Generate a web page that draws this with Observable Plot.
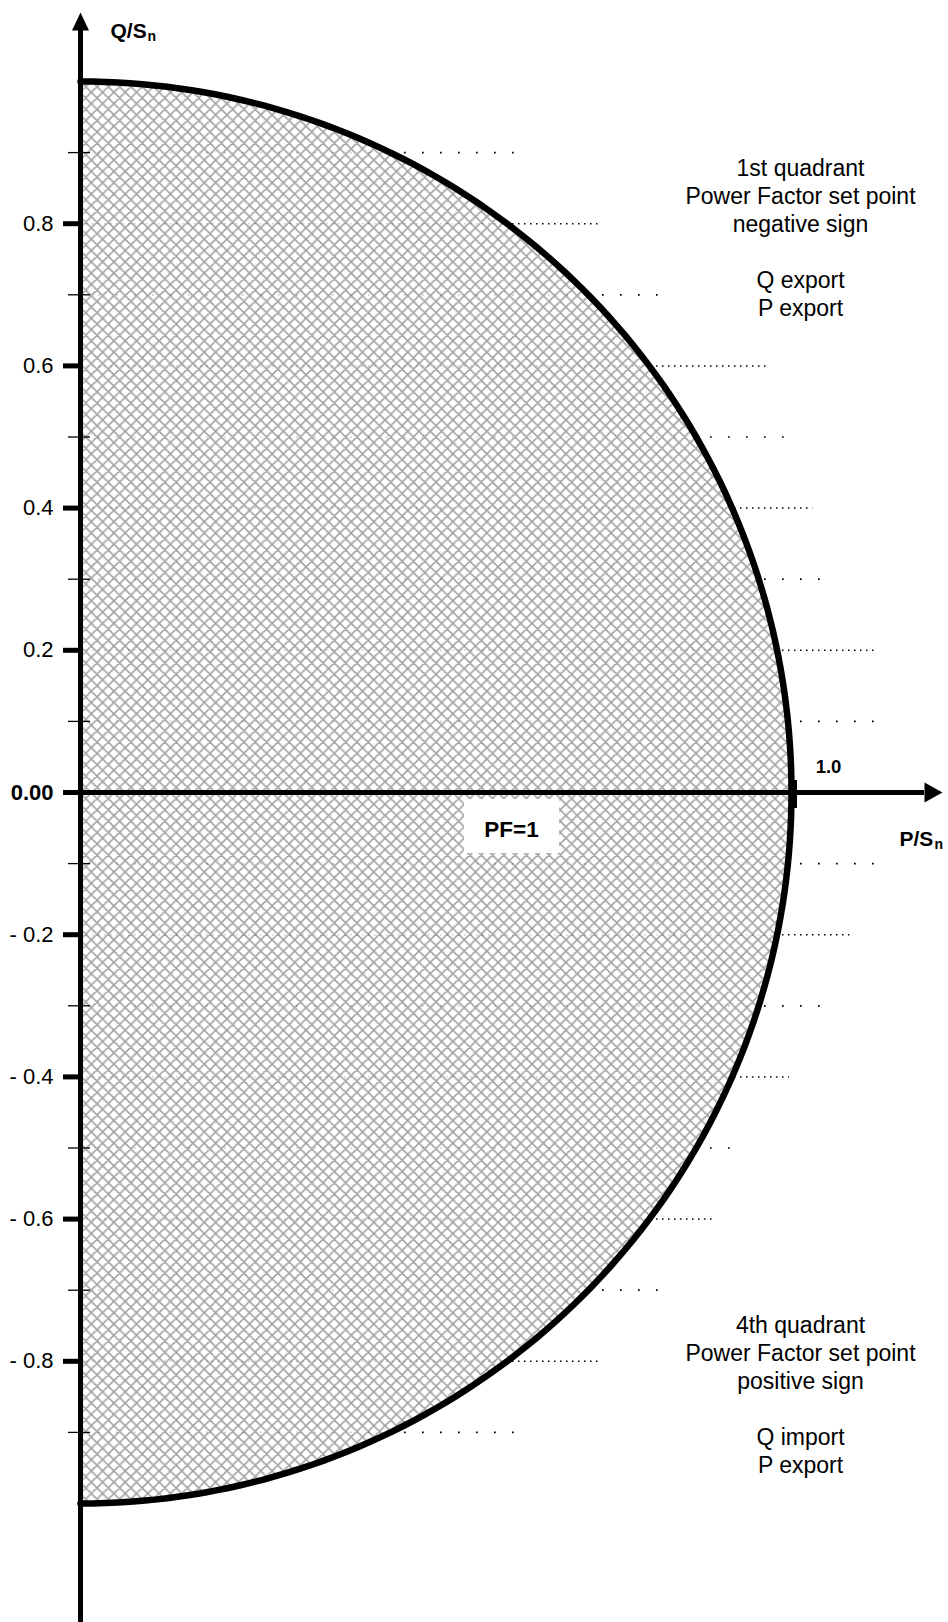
<!DOCTYPE html>
<html>
<head>
<meta charset="utf-8">
<script src="https://cdn.jsdelivr.net/npm/d3@7"></script>
<script src="https://cdn.jsdelivr.net/npm/@observablehq/plot@0.6"></script>
<style>
  html, body { margin: 0; padding: 0; background: #fff; }
  #chart svg { display: block; }
</style>
</head>
<body>
<div id="chart"></div>
<script>
// ---- data ----
const SN_RADIUS = 1.0;                       // capability limit |S| = Sn
const ARC_ANGLES = d3.range(90, -90.5, -1); // degrees, top (Q=+1) to bottom (Q=-1)

const Q_MAJOR = [0.8, 0.6, 0.4, 0.2, 0, -0.2, -0.4, -0.6, -0.8];
const Q_MAJOR_LABELS = ["0.8", "0.6", "0.4", "0.2", "0.00", "- 0.2", "- 0.4", "- 0.6", "- 0.8"];
const Q_MINOR = [0.9, 0.7, 0.5, 0.3, 0.1, -0.1, -0.3, -0.5, -0.7, -0.9];

const GRID_DENSE_Q   = [0.8, 0.6, 0.4, 0.2, -0.2, -0.4, -0.6, -0.8];
const GRID_DENSE_END = [0.731, 0.965, 1.03, 1.118, 1.082, 0.997, 0.894, 0.729];
const GRID_SPARSE_Q   = [0.9, 0.7, 0.5, 0.3, 0.1, -0.1, -0.3, -0.5, -0.7, -0.9];
const GRID_SPARSE_END = [0.615, 0.819, 1.001, 1.048, 1.125, 1.125, 1.048, 0.935, 0.823, 0.612];

const P_TICK = [1.0];
const P_TICK_LABEL = ["1.0"];

const QUAD1_TEXT = "1st quadrant\nPower Factor set point\nnegative sign\n\nQ export\nP export";
const QUAD4_TEXT = "4th quadrant\nPower Factor set point\npositive sign\n\nQ import\nP export";
const PF_LABEL = "PF=1";

// ---- derived tables ----
const arc = ARC_ANGLES.map(a => ({
  p: SN_RADIUS * Math.cos(a * Math.PI / 180),
  q: SN_RADIUS * Math.sin(a * Math.PI / 180)
}));
const majors = Q_MAJOR.map((q, i) => ({q, label: Q_MAJOR_LABELS[i]}));
const dense = GRID_DENSE_Q.map((q, i) => ({q, end: GRID_DENSE_END[i]}));
const sparse = GRID_SPARSE_Q.map((q, i) => ({q, end: GRID_SPARSE_END[i]}));

// pixel scale: 711 px per unit, origin at (80, 792)
const U = 711;
const px = v => v / U;

const arrowUp = {draw(ctx) { ctx.moveTo(0, -9); ctx.lineTo(8.5, 9); ctx.lineTo(-8.5, 9); ctx.closePath(); }};
const arrowRight = {draw(ctx) { ctx.moveTo(9, 0); ctx.lineTo(-9, 10); ctx.lineTo(-9, -10); ctx.closePath(); }};

const FONT = "'Liberation Sans', Arial, Helvetica, sans-serif";

const chart = Plot.plot({
  width: 948,
  height: 1622,
  margin: 0,
  x: {domain: [px(-80), px(868)], axis: null},
  y: {domain: [px(-830), px(792)], axis: null},
  style: {fontFamily: FONT, background: "white", color: "black"},
  marks: [
    // dotted guide lines
    Plot.ruleY(sparse, {y: "q", x1: 0, x2: "end", stroke: "black", strokeWidth: 1.7, strokeDasharray: "1.7,16.3"}),
    Plot.ruleY(dense, {y: "q", x1: 0, x2: "end", stroke: "black", strokeWidth: 1.5, strokeDasharray: "1.5,4.5"}),
    // hatched capability area
    Plot.areaX(arc, {y: "q", x1: 0, x2: "p", fill: "url(#xhatch)"}),
    // circle boundary
    Plot.line(arc, {x: "p", y: "q", stroke: "black", strokeWidth: 6.5, strokeLinecap: "round"}),
    // axes
    Plot.ruleY([0], {x1: 0, x2: px(844), stroke: "black", strokeWidth: 5}),
    Plot.ruleX([0], {y1: px(-840), y2: px(762), stroke: "black", strokeWidth: 5}),
    Plot.dot([0], {x: 0, y: px(771), symbol: arrowUp, fill: "black", stroke: "none"}),
    Plot.dot([0], {x: px(853), y: 0, symbol: arrowRight, fill: "black", stroke: "none"}),
    // ticks
    Plot.ruleY(Q_MAJOR, {x1: px(-17), x2: 0, stroke: "black", strokeWidth: 5}),
    Plot.ruleY(Q_MINOR, {x1: px(-12), x2: px(10), stroke: "black", strokeWidth: 1.3}),
    Plot.ruleX(P_TICK, {y1: px(12), y2: px(-16), stroke: "black", strokeWidth: 7, dx: 2}),
    // tick labels
    Plot.text(majors.filter(d => d.q !== 0), {x: px(-27), y: "q", text: "label", textAnchor: "end", fontSize: 22, fill: "black"}),
    Plot.text(majors.filter(d => d.q === 0), {x: px(-27), y: "q", text: "label", textAnchor: "end", fontSize: 22, fontWeight: "bold", fill: "black"}),
    Plot.text(P_TICK, {x: d => d + px(37), y: px(20), text: (d, i) => P_TICK_LABEL[i], lineAnchor: "bottom", fontSize: 18.5, fontWeight: "bold", fill: "black"}),
    // axis titles
    Plot.text(["Q/S"], {x: px(30), y: px(755), text: d => d, textAnchor: "start", lineAnchor: "bottom", fontSize: 21, fontWeight: "bold", fill: "black"}),
    Plot.text(["n"], {x: px(30), y: px(755), text: d => d, textAnchor: "start", lineAnchor: "bottom", fontSize: 14, fontWeight: "bold", fill: "black", dx: 37, dy: 3}),
    Plot.text(["P/S"], {x: px(819), y: px(-53), text: d => d, textAnchor: "start", lineAnchor: "bottom", fontSize: 21, fontWeight: "bold", fill: "black"}),
    Plot.text(["n"], {x: px(819), y: px(-53), text: d => d, textAnchor: "start", lineAnchor: "bottom", fontSize: 14, fontWeight: "bold", fill: "black", dx: 35, dy: 3}),
    // PF=1 label
    Plot.rect([PF_LABEL], {x1: px(384), x2: px(479), y1: px(-7), y2: px(-61), fill: "white"}),
    Plot.text([PF_LABEL], {x: px(431), y: px(-44), text: d => d, lineAnchor: "bottom", fontSize: 22.5, fontWeight: "bold", fill: "black"}),
    // quadrant annotations
    Plot.text([QUAD1_TEXT], {x: px(720), y: px(792 - 315), text: d => d, lineAnchor: "bottom", lineHeight: 28 / 23, fontSize: 23, fill: "black"}),
    Plot.text([QUAD4_TEXT], {x: px(720), y: px(792 - 1472), text: d => d, lineAnchor: "bottom", lineHeight: 28 / 23, fontSize: 23, fill: "black"})
  ]
});

// cross-hatch pattern definition
const S = 11.3;
const defs = d3.select(chart).insert("defs", ":first-child");
const pat = defs.append("pattern")
  .attr("id", "xhatch")
  .attr("patternUnits", "userSpaceOnUse")
  .attr("x", 80).attr("y", 81)
  .attr("width", S).attr("height", S);
pat.append("rect").attr("width", S).attr("height", S).attr("fill", "white").attr("fill-opacity", 0.8);
pat.append("path")
  .attr("d", `M-2,-2L${S + 2},${S + 2}M${-2},${S - 2}L2,${S + 2}M${S - 2},-2L${S + 2},2` +
             `M${S + 2},-2L-2,${S + 2}M-2,2L2,-2M${S - 2},${S + 2}L${S + 2},${S - 2}`)
  .attr("stroke", "black")
  .attr("stroke-opacity", 0.36)
  .attr("stroke-width", 1.6)
  .attr("fill", "none");

document.getElementById("chart").appendChild(chart);
</script>
</body>
</html>
